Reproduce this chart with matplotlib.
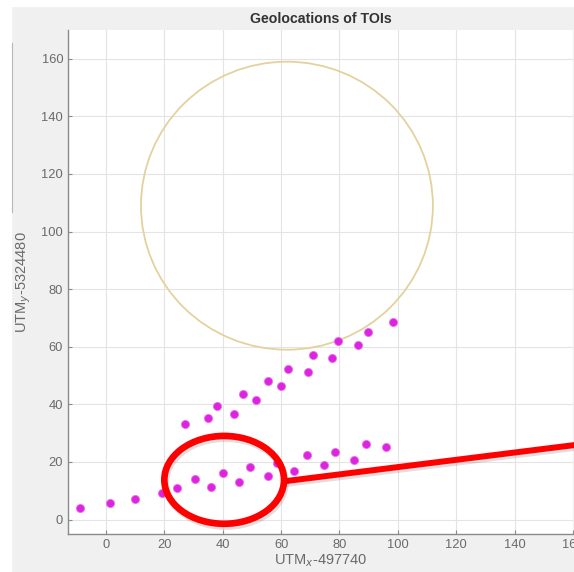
import matplotlib
matplotlib.use("Agg")
import matplotlib.pyplot as plt
from matplotlib.patches import Ellipse, Circle, Rectangle
import matplotlib.patheffects as pe

plt.rcParams['font.family'] = ['Liberation Sans', 'DejaVu Sans']

# Lower row of TOI geolocations
x_low = [-9, 1.4, 10.1, 19.2, 24.2, 30.6, 36.1, 40.0, 45.7, 49.3, 55.4, 58.5, 64.5, 68.9, 74.6, 78.5, 84.9, 89.0, 95.9]
y_low = [4.1, 5.7, 7.2, 9.3, 10.8, 14.0, 11.3, 16.1, 12.9, 18.2, 15.0, 19.7, 16.8, 22.3, 18.9, 23.3, 20.6, 26.1, 25.2]
# Upper row of TOI geolocations
x_up = [27.2, 34.9, 38.2, 43.8, 47.0, 51.4, 55.4, 60.1, 62.5, 69.2, 70.9, 77.6, 79.6, 86.3, 89.8, 98.3]
y_up = [33.1, 35.3, 39.3, 36.7, 43.6, 41.6, 48.0, 46.3, 52.4, 51.2, 57.1, 56.2, 61.9, 60.7, 65.2, 68.5]

circle_center = (62, 109)
circle_radius = 50

highlight_center = (40.5, 13.8)
highlight_size = (41, 30.5)
pointer_x = [61.0, 163.0]
pointer_y = [13.3, 26.2]

xticks = [0, 20, 40, 60, 80, 100, 120, 140, 160]
yticks = [0, 20, 40, 60, 80, 100, 120, 140, 160]

fig = plt.figure(figsize=(5.74, 5.72), dpi=100, facecolor='#f0f0f0')
# white strips at top/left
fig.patches.append(Rectangle((0, 0.99), 1, 0.01, transform=fig.transFigure, color='white', zorder=0))
fig.patches.append(Rectangle((0, 0), 0.019, 1, transform=fig.transFigure, color='white', zorder=0))
fig.add_artist(plt.Line2D([0.021, 0.021], [0.63, 0.925], transform=fig.transFigure, color='#b8b8b8', lw=0.8))

ax = fig.add_axes([68/574, 1-534/572, (573-68)/574, (534-30)/572])
ax.set_facecolor('white')
ax.set_xlim(-13, 160)
ax.set_ylim(-5, 170)
ax.set_xticks(xticks)
ax.set_yticks(yticks)
ax.grid(True, color='#e4e4e4', lw=0.8)
ax.set_axisbelow(True)
for s in ['top', 'right']:
    ax.spines[s].set_visible(False)
for s in ['left', 'bottom']:
    ax.spines[s].set_color('#8a8a8a')
    ax.spines[s].set_linewidth(1.0)
ax.tick_params(direction='in', length=3, colors='#8a8a8a', labelcolor='#6a6a6a', labelsize=9.3)

ax.add_patch(Circle(circle_center, circle_radius, fill=False, ec='#e3d29e', lw=1.3, zorder=2))

ax.scatter(x_low, y_low, s=34, color='#dd22e0', edgecolors='#e870ea', linewidths=0.6, zorder=3)
ax.scatter(x_up, y_up, s=34, color='#dd22e0', edgecolors='#e870ea', linewidths=0.6, zorder=3)

shadow = [pe.SimpleLineShadow(offset=(1.0, -2.0), shadow_color='#000000', alpha=0.12), pe.Normal()]
ax.plot(pointer_x, pointer_y, color='#ff0000', lw=4.3, clip_on=False, zorder=5,
        solid_capstyle='butt', path_effects=shadow)
ell = Ellipse(highlight_center, highlight_size[0], highlight_size[1], fill=False, ec='#ff0000', lw=4.8, zorder=6,
              path_effects=[pe.SimpleLineShadow(offset=(1.0, -2.0), shadow_color='#000000', alpha=0.12), pe.Normal()])
ax.add_patch(ell)

ax.set_title('Geolocations of TOIs', fontsize=10.2, fontweight='bold', color='#333333', pad=5)
ax.set_xlabel('UTM$_x$-497740', fontsize=10.5, color='#6a6a6a', labelpad=1)
ax.set_ylabel('UTM$_y$-5324480', fontsize=10.5, color='#6a6a6a', labelpad=6)

fig.savefig('out.png', dpi=100, facecolor=fig.get_facecolor())
